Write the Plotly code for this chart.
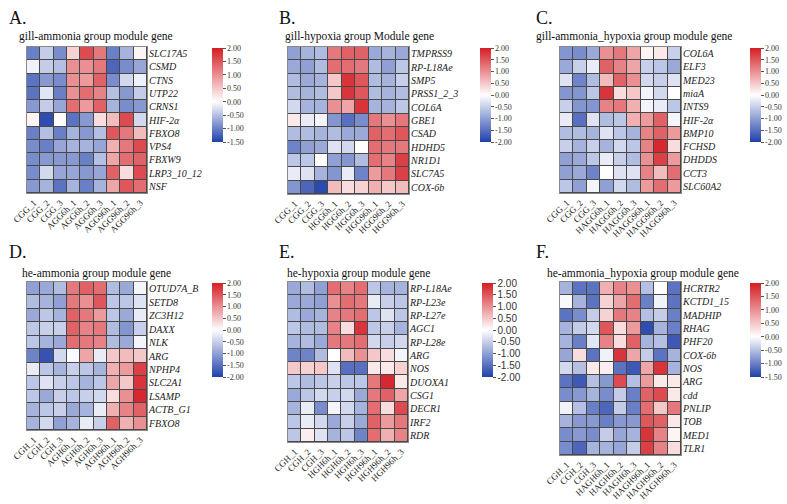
import plotly.graph_objects as go

W, H = 787, 504

# ---------------- data ----------------
genes_A = ["SLC17A5", "CSMD", "CTNS", "UTP22", "CRNS1", "HIF-2α", "FBXO8", "VPS4", "FBXW9", "LRP3_10_12", "NSF"]
cols_A = ["CGG_1", "CGG_2", "CGG_3", "AGG6h_1", "AGG6h_2", "AGG6h_3", "AGG96h_1", "AGG96h_2", "AGG96h_3"]
vals_A = [
    [-1.0, -0.4, -0.9, 0.4, 1.6, 1.2, -1.0, -0.6, 0.1],
    [-0.1, -0.4, -0.5, 1.0, 1.0, 1.2, -1.2, -0.9, -0.7],
    [-1.1, -0.8, -0.9, 1.0, 0.9, 1.4, -0.9, -0.3, -0.1],
    [-1.1, -0.2, -1.0, 1.0, 1.3, 1.1, -0.5, -0.8, -0.4],
    [-0.8, -0.4, -0.7, 1.3, 0.9, 1.4, -0.6, -0.9, -0.8],
    [0.1, -1.4, 0.0, -1.1, -0.8, 0.3, 0.6, 1.6, -0.3],
    [-1.0, -0.5, -1.0, -0.6, -0.8, -0.5, 1.5, 1.2, 0.6],
    [-0.9, -1.0, -0.7, -0.6, -0.6, -0.7, 0.7, 1.2, 1.6],
    [-0.9, -0.8, -0.8, -0.8, -1.0, -0.5, 0.8, 1.3, 1.4],
    [-0.9, -0.3, -0.7, -0.7, -0.8, -0.7, 1.4, 0.3, 1.6],
    [-0.8, -0.6, -1.1, -0.6, -1.0, -0.6, 0.8, 1.5, 1.3],
]

genes_B = ["TMPRSS9", "RP-L18Ae", "SMP5", "PRSS1_2_3", "COL6A", "GBE1", "CSAD", "HDHD5", "NR1D1", "SLC7A5", "COX-6b"]
cols_B = ["CGG_1", "CGG_2", "CGG_3", "HGG6h_1", "HGG6h_2", "HGG6h_3", "HGG96h_1", "HGG96h_2", "HGG96h_3"]
vals_B = [
    [-1.0, -0.8, -0.7, 1.2, 1.4, 1.4, -0.9, -0.8, -0.9],
    [-0.9, -1.0, -0.7, 1.3, 1.3, 1.2, -0.7, -1.0, -0.6],
    [-0.7, -0.9, -0.8, 0.5, 1.8, 1.5, -0.7, -0.8, -0.5],
    [-0.7, -0.8, -0.7, 0.5, 1.8, 1.5, -0.7, -0.8, -0.7],
    [-0.4, -0.8, -0.8, 1.0, 0.8, 1.8, -0.8, -0.8, -0.6],
    [0.2, -0.2, -0.1, -1.1, -1.5, -1.2, 1.2, 1.0, 1.2],
    [-0.7, -0.7, -0.8, -0.7, -0.9, -0.9, 1.4, 1.3, 1.5],
    [-1.3, -1.0, -0.9, -0.3, -0.4, 0.0, 1.3, 1.2, 1.2],
    [-0.6, -0.6, 0.0, -1.0, -1.1, -0.7, 1.3, 1.1, 1.7],
    [-0.2, -0.3, -0.8, -1.1, -0.2, -1.3, 0.9, 1.2, 1.7],
    [-1.1, -1.6, -1.9, 0.6, 0.3, 0.4, 0.7, 0.5, 0.6],
]

genes_C = ["COL6A", "ELF3", "MED23", "miaA", "INTS9", "HIF-2α", "BMP10", "FCHSD", "DHDDS", "CCT3", "SLC60A2"]
cols_C = ["CGG_1", "CGG_2", "CGG_3", "HAGG6h_1", "HAGG6h_2", "HAGG6h_3", "HAGG96h_1", "HAGG96h_2", "HAGG96h_3"]
vals_C = [
    [-1.1, -1.2, -0.9, 1.0, 1.2, 0.8, 0.1, 0.2, -0.5],
    [-0.9, -0.5, -0.2, 1.4, 1.1, 0.8, -0.5, -0.6, -0.9],
    [-0.3, -1.3, -0.7, 0.6, 1.4, 1.0, -0.4, -0.5, -0.3],
    [-1.1, -1.1, -0.6, 1.8, 0.3, 0.5, -0.1, -0.4, 0.0],
    [-0.5, -1.1, -1.1, 1.1, 1.2, 0.7, -0.1, -0.2, -0.6],
    [-0.2, -1.5, -0.3, -0.7, -0.6, 0.7, 0.9, 1.4, -0.1],
    [-0.7, -0.7, -0.8, -0.3, -0.6, -0.8, 1.1, 1.4, 0.9],
    [-0.5, -0.8, -0.5, -0.8, -0.4, -0.6, 1.1, 1.9, 0.3],
    [-1.0, -0.9, -0.6, -0.2, -0.5, -0.7, 1.0, 1.7, 0.9],
    [-1.0, -0.9, -1.3, 0.0, -0.3, -0.3, 1.1, 0.6, 1.3],
    [-0.6, -1.0, -0.1, -1.0, -0.4, -0.7, 0.9, 1.3, 0.9],
]

genes_D = ["OTUD7A_B", "SETD8", "ZC3H12", "DAXX", "NLK", "ARG", "NPHP4", "SLC2A1", "LSAMP", "ACTB_G1", "FBXO8"]
cols_D = ["CGH_1", "CGH_2", "CGH_3", "AGH6h_1", "AGH6h_2", "AGH6h_3", "AGH96h_1", "AGH96h_2", "AGH96h_3"]
vals_D = [
    [-1.0, -0.9, -0.7, 1.2, 1.4, 1.3, -0.7, -0.9, -0.1],
    [-0.7, -0.8, -1.0, 1.2, 1.0, 1.5, -0.6, -0.6, -0.3],
    [-0.9, -0.6, -0.8, 1.4, 1.2, 0.9, -0.6, -0.9, -0.2],
    [-0.6, -0.5, -0.5, 1.4, 1.1, 1.2, -0.7, -1.1, -0.5],
    [-0.6, -0.8, -0.9, 1.3, 1.2, 1.1, -0.7, -0.9, -0.1],
    [-1.3, -1.8, -0.4, -0.05, 0.8, -0.2, 0.5, 0.6, 0.5],
    [-0.2, -0.6, -0.8, -0.5, -0.6, -0.8, 0.7, 0.9, 1.7],
    [-0.6, -0.3, -0.5, -0.6, -0.8, -0.6, 0.8, 0.5, 1.8],
    [-0.6, -0.9, -0.5, -0.6, -0.5, -0.4, 0.3, 1.0, 1.9],
    [-0.8, -0.6, -0.5, -0.9, -0.8, -0.2, 0.7, 1.1, 1.4],
    [-0.8, -0.4, -1.0, -0.8, -0.2, -0.5, 1.4, 0.7, 1.0],
]

genes_E = ["RP-L18Ae", "RP-L23e", "RP-L27e", "AGC1", "RP-L28e", "ARG", "NOS", "DUOXA1", "CSG1", "DECR1", "IRF2", "RDR"]
cols_E = ["CGH_1", "CGH_2", "CGH_3", "HGH6h_1", "HGH6h_2", "HGH6h_3", "HGH96h_1", "HGH96h_2", "HGH96h_3"]
vals_E = [
    [-0.9, -0.7, -1.0, 1.3, 1.1, 1.3, -0.6, -0.8, -0.8],
    [-0.9, -0.9, -1.0, 1.0, 1.3, 1.2, -0.2, -0.5, -0.6],
    [-0.7, -0.9, -0.8, 1.1, 1.2, 1.3, -0.6, -0.3, -0.6],
    [-0.6, -0.7, -0.7, 1.1, 0.3, 1.8, -0.6, -0.5, -0.8],
    [-0.8, -0.7, -0.9, 1.2, 1.2, 1.3, -0.4, -0.5, -0.4],
    [-1.3, -1.3, -0.7, 0.0, 0.6, 1.0, 0.5, 0.3, -0.1],
    [0.5, 0.4, 0.5, -0.3, -1.5, -1.5, 0.2, 0.2, 0.4],
    [-0.6, -0.7, -0.6, -0.5, -0.6, -0.6, 1.2, 1.9, 0.2],
    [-0.9, -0.6, -0.4, -0.5, -0.4, -0.9, 1.2, 1.4, 0.8],
    [-0.8, -0.2, -1.2, -0.1, -0.4, -0.8, 1.3, 0.3, 1.6],
    [-0.6, -0.2, -0.4, -0.9, -0.5, -0.9, 1.4, 0.9, 1.2],
    [-0.6, 0.15, -0.3, -0.8, -0.6, -1.3, 1.3, 0.7, 1.1],
]

genes_F = ["HCRTR2", "KCTD1_15", "MADHIP", "RHAG", "PHF20", "COX-6b", "NOS", "ARG", "cdd", "PNLIP", "TOB", "MED1", "TLR1"]
cols_F = ["CGH_1", "CGH_2", "CGH_3", "HAGH6h_1", "HAGH6h_2", "HAGH6h_3", "HAGH96h_1", "HAGH96h_2", "HAGH96h_3"]
vals_F = [
    [-0.6, -1.1, -1.1, 0.7, 1.1, 1.0, -0.5, 0.0, -1.1],
    [-0.05, -0.6, -1.1, 0.4, 0.8, 1.3, -1.0, -0.1, -1.1],
    [-1.1, -0.9, -0.4, 0.4, 1.2, 1.1, -0.5, -0.4, -1.0],
    [-0.6, -0.4, -0.3, 1.5, 0.3, 0.9, -1.4, -0.6, -1.0],
    [-0.6, -1.0, -0.2, 1.1, 0.3, 1.4, -0.6, -0.5, -1.3],
    [-0.7, 0.3, -1.1, -0.1, 1.8, 0.8, -0.4, -1.1, -0.6],
    [-0.3, -0.5, 0.2, 0.15, -1.1, -1.3, 0.8, 1.8, -0.6],
    [-1.1, -1.3, -0.5, -0.8, 1.6, -0.5, 0.9, 0.2, 0.2],
    [-0.9, -0.8, -0.6, -0.9, -0.4, -1.0, 1.4, 1.6, 0.2],
    [-0.1, -0.5, -1.0, -1.2, -0.4, -1.0, 1.3, 0.5, 1.2],
    [-0.6, -0.8, -0.8, -1.0, -0.8, -0.8, 1.5, 1.4, 0.2],
    [-0.9, -0.8, -0.9, -0.4, -0.7, -0.6, 1.8, 1.1, 0.1],
    [-0.9, -1.2, -0.6, -0.6, -0.7, -0.4, 1.7, 1.1, 0.3],
]

letters = ["A.", "B.", "C.", "D.", "E.", "F."]
titles = [
    "gill-ammonia group module gene",
    "gill-hypoxia group Module gene",
    "gill-ammonia_hypoxia group module gene",
    "he-ammonia group module gene",
    "he-hypoxia group module gene",
    "he-ammonia_hypoxia group module gene",
]
zranges = [(-1.5, 2.0), (-2.0, 2.0), (-2.0, 2.0), (-2.0, 2.0), (-2.0, 2.0), (-1.5, 2.0)]

# ---------------- layout geometry (pixels) ----------------
panels = [
    dict(genes=genes_A, cols=cols_A, vals=vals_A, hm=(27, 147, 47, 193), cb=(212, 48), let=(7, 18), tit=(17, 37), cbfont="Liberation Serif"),
    dict(genes=genes_B, cols=cols_B, vals=vals_B, hm=(288, 409, 47, 194), cb=(480, 48), let=(277, 18), tit=(283, 37), cbfont="Liberation Serif"),
    dict(genes=genes_C, cols=cols_C, vals=vals_C, hm=(560, 681, 47, 193), cb=(750, 48), let=(534, 18), tit=(534, 37), cbfont="Liberation Serif"),
    dict(genes=genes_D, cols=cols_D, vals=vals_D, hm=(27, 147, 282, 430), cb=(212, 283), let=(7, 252), tit=(20, 273), cbfont="Liberation Serif"),
    dict(genes=genes_E, cols=cols_E, vals=vals_E, hm=(288, 408, 282, 442), cb=(482, 283), let=(277, 252), tit=(285, 273), cbfont="Liberation Sans"),
    dict(genes=genes_F, cols=cols_F, vals=vals_F, hm=(560, 681, 282, 455), cb=(750, 283), let=(534, 252), tit=(545, 273), cbfont="Liberation Serif"),
]

BLUE = "rgb(32,64,170)"
RED = "rgb(212,30,36)"
SERIF = "Liberation Serif"

fig = go.Figure()
annotations = []
layout = {}

for i, p in enumerate(panels):
    k = "" if i == 0 else str(i + 1)
    zmin, zmax = zranges[i]
    mid = (0 - zmin) / (zmax - zmin)
    cs = [[0, BLUE], [mid, "rgb(255,255,255)"], [1, RED]]
    x0, x1, y0, y1 = p["hm"]
    cbx, cby = p["cb"]
    n = int(round((zmax - zmin) / 0.5))
    tv = [zmin + 0.5 * j for j in range(n + 1)]
    tt = ["%.2f" % v for v in tv]
    fig.add_trace(go.Heatmap(
        z=p["vals"], x=p["cols"], y=p["genes"],
        zmin=zmin, zmax=zmax, colorscale=cs,
        xgap=1, ygap=1,
        xaxis="x" + k, yaxis="y" + k,
        colorbar=dict(
            x=cbx / W, xanchor="left", y=1 - cby / H, yanchor="top",
            lenmode="pixels", len=94, thicknessmode="pixels", thickness=11,
            outlinewidth=0, ticks="outside", ticklen=3, tickcolor="#555",
            tickmode="array", tickvals=tv, ticktext=tt,
            tickfont=dict(family=p["cbfont"], size=8 if p["cbfont"] == SERIF else 10, color="#333"),
            xpad=0, ypad=0,
        ),
    ))
    layout["xaxis" + k] = dict(
        domain=[x0 / W, x1 / W], anchor="y" + k, type="category", automargin=False,
        tickangle=-45, tickfont=dict(family=SERIF, size=9, color="#222"),
        showgrid=False, zeroline=False, ticks="", ticklen=0, showline=True, mirror=True,
        linecolor="#888", linewidth=1,
    )
    layout["yaxis" + k] = dict(
        domain=[1 - y1 / H, 1 - y0 / H], anchor="x" + k, type="category", automargin=False,
        side="right", autorange="reversed", ticklen=0, ticklabelstandoff=-1,
        tickfont=dict(family=SERIF, size=10, color="#222", style="italic"),
        showgrid=False, zeroline=False, ticks="", showline=True, mirror=True,
        linecolor="#888", linewidth=1,
    )
    lx, ly = p["let"]
    annotations.append(dict(text=letters[i], x=lx / W, y=1 - ly / H, xref="paper", yref="paper",
                            xanchor="left", yanchor="middle", showarrow=False,
                            font=dict(family=SERIF, size=18, color="#111")))
    tx, ty = p["tit"]
    annotations.append(dict(text=titles[i], x=tx / W, y=1 - ty / H, xref="paper", yref="paper",
                            xanchor="left", yanchor="middle", showarrow=False,
                            font=dict(family=SERIF, size=11.5, color="#111")))

fig.update_layout(
    width=W, height=H, margin=dict(l=0, r=0, t=0, b=0),
    paper_bgcolor="white", plot_bgcolor="#484848",
    annotations=annotations, showlegend=False,
    **layout,
)

fig.write_html("out.html")
